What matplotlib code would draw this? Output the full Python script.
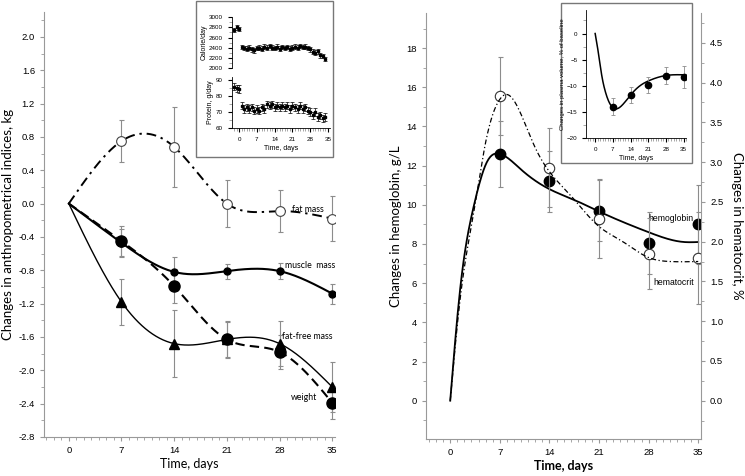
import numpy as np
import matplotlib.pyplot as plt
from matplotlib.patches import Rectangle
from matplotlib.ticker import MultipleLocator

plt.rcParams['font.family'] = ['Liberation Sans Narrow', 'Liberation Sans', 'DejaVu Sans']

# ---- left panel data (kg) ----
days = [0, 7, 14, 21, 28, 35]
fat = [0, 0.75, 0.68, 0.0, -0.09, -0.18]
fat_err = [0, 0.25, 0.48, 0.28, 0.25, 0.27]
muscle = [0, -0.47, -0.82, -0.81, -0.81, -1.08]
muscle_err = [0, 0.17, 0.18, 0.09, 0.1, 0.12]
weight = [0, -0.45, -0.99, -1.63, -1.78, -2.39]
weight_err = [0, 0.18, 0.2, 0.21, 0.2, 0.2]
ffm = [0, -1.18, -1.68, -1.63, -1.68, -2.2]
ffm_err = [0, 0.28, 0.4, 0.22, 0.27, 0.3]

# ---- left inset: daily intake ----
intake_days = list(range(-2, 35))
calories = [2750, 2800, 2770,
            2410, 2390, 2380, 2400, 2370, 2350, 2390, 2400, 2380, 2420,
            2400, 2430, 2400, 2390, 2420, 2380, 2410, 2390, 2410, 2380,
            2400, 2420, 2400, 2430, 2410, 2420, 2390, 2370, 2320, 2300,
            2330, 2250, 2240, 2180]
protein = [86, 85, 84.5,
           74, 72, 73, 72, 73, 71, 72, 71, 73, 72,
           75, 74, 75, 73, 74, 73, 74, 73, 74, 72,
           74, 73, 72, 74, 72, 73, 71, 70, 68, 70,
           67, 68, 66, 67]

# ---- right panel data ----
hb = [12.6, 11.2, 9.7, 8.05, 9.0]
hb_err = [1.7, 1.55, 1.55, 1.6, 2.0]
hct = [3.83, 2.93, 2.29, 1.85, 1.79]
hct_err = [0.49, 0.5, 0.5, 0.45, 0.58]
obs_days = [7, 14, 21, 28, 35]
# fitted curves
hb_fit_days = [0, 1.4, 3.3, 5.2, 7, 10, 14, 17.5, 21, 28, 33, 35]
hb_fit = [0, 5.7, 9.9, 12.2, 12.6, 11.8, 10.8, 10.25, 9.66, 8.6, 8.1, 8.1]
hct_fit_days = [0, 1.4, 3.3, 5, 7, 8, 10, 12, 14, 17, 21, 24, 28, 31, 35]
hct_fit = [0, 1.28, 2.36, 3.25, 3.79, 3.85, 3.6, 3.18, 2.88, 2.58, 2.19,
           2.02, 1.8, 1.75, 1.75]

# ---- right inset: plasma volume ----
pv = [-14.0, -11.8, -9.8, -8.1, -8.3]
pv_err = [1.6, 1.5, 1.5, 1.6, 2.1]
pv_fit_days = [0, 1.3, 2.6, 3.9, 5.2, 7.8, 10.5, 14.3, 18, 21.4, 28.5, 35]
pv_fit = [0, -3.8, -8.0, -10.9, -12.8, -14.4, -13.8, -11.6, -9.9, -9.0, -8.0, -7.9]


def spline(x, y, xs):
    # natural cubic spline
    x = np.asarray(x, float)
    y = np.asarray(y, float)
    n = len(x)
    h = np.diff(x)
    A = np.zeros((n, n))
    b = np.zeros(n)
    A[0, 0] = A[-1, -1] = 1
    for i in range(1, n - 1):
        A[i, i - 1] = h[i - 1]
        A[i, i] = 2 * (h[i - 1] + h[i])
        A[i, i + 1] = h[i]
        b[i] = 3 * ((y[i + 1] - y[i]) / h[i] - (y[i] - y[i - 1]) / h[i - 1])
    c = np.linalg.solve(A, b)
    idx = np.clip(np.searchsorted(x, xs) - 1, 0, n - 2)
    dx = xs - x[idx]
    bb = (y[idx + 1] - y[idx]) / h[idx] - h[idx] * (2 * c[idx] + c[idx + 1]) / 3
    d = (c[idx + 1] - c[idx]) / (3 * h[idx])
    return y[idx] + bb * dx + c[idx] * dx ** 2 + d * dx ** 3


def fmt1(vals):
    return ['%.1f' % (round(v, 1) + 0.0) if abs(v) > 1e-9 else '0.0' for v in vals]


GREY = '#999999'
ERR = '#8c8c8c'
LABEL = ['Lato', 'DejaVu Sans']


def style(ax, sides=('left', 'bottom')):
    for s in ax.spines:
        ax.spines[s].set_visible(s in sides)
        ax.spines[s].set_color(GREY)
    ax.tick_params(which='both', direction='out', color=GREY, labelsize=6.8)
    ax.tick_params(which='major', length=3)
    ax.tick_params(which='minor', length=2)


fig = plt.figure(figsize=(7.45, 4.76), dpi=100)
xs = np.linspace(0, 35, 300)

# ================= left panel =================
ax1 = fig.add_axes([0.059, 0.082, 0.391, 0.893])
style(ax1)
ax1.set_xlim(-3.3, 35.4)
ax1.set_ylim(-2.8, 2.3)
ax1.set_xticks(days)
ax1.xaxis.set_minor_locator(MultipleLocator(1))
yt = np.arange(-2.8, 2.01, 0.4)
ax1.set_yticks(yt)
ax1.set_yticklabels(fmt1(yt))
ax1.yaxis.set_minor_locator(MultipleLocator(0.2))

ax1.plot(xs, spline(days, fat, xs), color='k', lw=1.4, dashes=[5, 2.5, 1.2, 2.5])
ax1.plot(xs, spline(days, muscle, xs), color='k', lw=1.5)
ax1.plot(xs, spline(days, weight, xs), color='k', lw=1.5, dashes=[4.5, 2.5])
ax1.plot(xs, spline(days, ffm, xs), color='k', lw=1.0)

ek = dict(ecolor=ERR, elinewidth=0.8, capsize=1.8, capthick=0.8, ls='none')
ax1.errorbar(days[1:], fat[1:], yerr=fat_err[1:], fmt='o', ms=7, mfc='white',
             mec='#444444', mew=0.8, **ek)
ax1.errorbar(days[1:], muscle[1:], yerr=muscle_err[1:], fmt='o', ms=5, color='k', **ek)
ax1.errorbar(days[1:], weight[1:], yerr=weight_err[1:], fmt='o', ms=8, color='k', **ek)
ax1.errorbar(days[1:], ffm[1:], yerr=ffm_err[1:], fmt='^', ms=6.5, color='k', **ek)

ax1.set_xlabel('Time, days', family=LABEL, fontsize=9, labelpad=2)
ax1.set_ylabel('Changes in anthropometrical indices, kg', family=LABEL, fontsize=9.5, labelpad=3)

lk = dict(family=LABEL, fontsize=6.3, ha='center', va='center')
ax1.text(31.7, -0.065, 'fat mass', **lk)
ax1.text(32.1, -0.74, 'muscle  mass', **lk)
ax1.text(31.7, -1.6, 'fat-free mass', **lk)
ax1.text(31.3, -2.33, 'weight', **lk)

# ---- left inset ----
fig.add_artist(Rectangle((0.263, 0.670), 0.184, 0.328, transform=fig.transFigure,
                         fill=True, facecolor='white', edgecolor='#777777', lw=1.0,
                         zorder=1))
ia = fig.add_axes([0.311, 0.857, 0.132, 0.107], zorder=2)
ib = fig.add_axes([0.311, 0.731, 0.132, 0.107], zorder=2)
for a in (ia, ib):
    style(a)
    a.tick_params(labelsize=4.5, color='k')
    for s in ('left', 'bottom'):
        a.spines[s].set_color('k')
        a.spines[s].set_linewidth(0.6)
    a.set_xlim(-2.9, 35.8)
    a.set_facecolor('none')
ia.spines['bottom'].set_visible(False)
ia.set_xticks([])
ia.set_ylim(2000, 3000)
ia.set_yticks(range(2000, 3001, 200))
ia.yaxis.set_minor_locator(MultipleLocator(100))
ib.set_ylim(60, 92)
ib.set_yticks([60, 70, 80, 90])
ib.yaxis.set_minor_locator(MultipleLocator(5))
ib.set_xticks(days)
ib.xaxis.set_minor_locator(MultipleLocator(1))
ik = dict(fmt='s', ms=1.5, color='k', elinewidth=0.5, capsize=1.2, capthick=0.5)
ia.errorbar(intake_days, calories, yerr=45, **ik)
ib.errorbar(intake_days, protein, yerr=2.3, **ik)
ia.set_ylabel('Calorie/day', fontsize=5, labelpad=1)
ib.set_ylabel('Protein, g/day', fontsize=5, labelpad=1)
ib.set_xlabel('Time, days', fontsize=5, labelpad=2)

# ================= right panel =================
ax2 = fig.add_axes([0.572, 0.078, 0.369, 0.895])
style(ax2)
ax2.set_xlim(-3.4, 35.4)
ylo, yhi = -1.95, 19.8
ax2.set_ylim(ylo, yhi)
ax2.set_xticks(days)
ax2.xaxis.set_minor_locator(MultipleLocator(1))
ax2.set_yticks(range(0, 19, 2))
ax2.yaxis.set_minor_locator(MultipleLocator(1))
ax2r = ax2.twinx()
style(ax2r, sides=('right',))
ax2r.set_ylim(ylo / 4.06, yhi / 4.06)
rt = np.arange(0, 4.51, 0.5)
ax2r.set_yticks(rt)
ax2r.set_yticklabels(fmt1(rt))
ax2r.yaxis.set_minor_locator(MultipleLocator(0.25))

ax2.plot(xs, spline(hb_fit_days, hb_fit, xs), color='k', lw=1.3, zorder=3)
ax2r.plot(xs, spline(hct_fit_days, hct_fit, xs), color='k', lw=0.9,
          dashes=[4, 2, 1, 2], zorder=3)
ax2.errorbar(obs_days, hb, yerr=hb_err, fmt='o', ms=7.5, color='k', **ek)
ax2r.errorbar(obs_days, hct, yerr=hct_err, fmt='o', ms=7.5, mfc='white',
              mec='#333333', mew=0.8, **ek)

ax2.set_xlabel('Time, days', family=LABEL, fontsize=9, fontweight='bold', labelpad=2)
ax2.set_ylabel('Changes in hemoglobin, g/L', family=LABEL, fontsize=9.5, labelpad=3)
ax2r.set_ylabel('Changes in hematocrit, %', family=LABEL, fontsize=9.5,
                rotation=270, labelpad=14)
ax2.text(34.4, 9.3, 'hemoglobin', fontsize=6.2, ha='right', va='center')
ax2.text(34.4, 6.04, 'hematocrit', fontsize=6.2, ha='right', va='center')

# ---- right inset ----
fig.add_artist(Rectangle((0.753, 0.658), 0.176, 0.336, transform=fig.transFigure,
                         fill=True, facecolor='white', edgecolor='#777777', lw=1.0,
                         zorder=5))
ic = fig.add_axes([0.787, 0.710, 0.134, 0.269], zorder=6)
style(ic)
ic.set_facecolor('none')
ic.tick_params(labelsize=4.5, color='k')
for s in ('left', 'bottom'):
    ic.spines[s].set_color('k')
    ic.spines[s].set_linewidth(0.6)
ic.set_xlim(-3.5, 36)
ic.set_ylim(-20, 4.5)
ic.set_xticks(days)
ic.xaxis.set_minor_locator(MultipleLocator(1))
ic.set_yticks([0, -5, -10, -15, -20])
ic.yaxis.set_minor_locator(MultipleLocator(2.5))
ic.plot(xs, spline(pv_fit_days, pv_fit, xs), color='k', lw=1.1)
ic.errorbar(obs_days, pv, yerr=pv_err, fmt='o', ms=4.5, color='k',
            ecolor=ERR, elinewidth=0.6, capsize=1.5, capthick=0.6)
ic.set_ylabel('Changes in plasma volume, % of baseline', fontsize=4.3, labelpad=1)
ic.set_xlabel('Time, days', fontsize=5, labelpad=2)

fig.savefig('out.png', dpi=100)
